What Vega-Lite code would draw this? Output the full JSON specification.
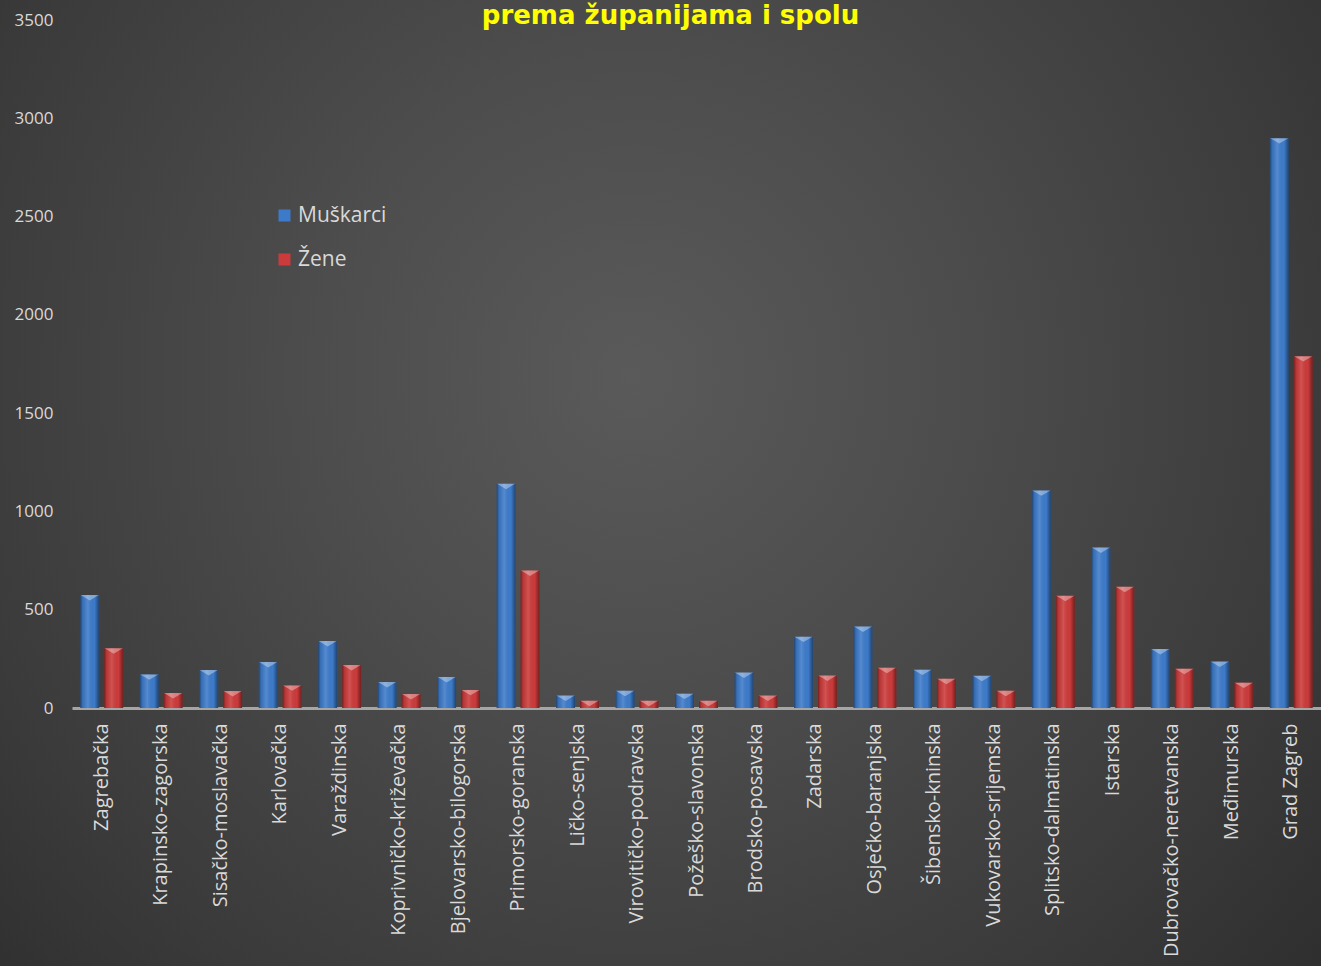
{
  "$schema": "https://vega.github.io/schema/vega-lite/v6.json",
  "autosize": "none",
  "width": 1321,
  "height": 966,
  "padding": 0,
  "background": "#282828",
  "title": {
    "text": "prema županijama i spolu",
    "frame": "group",
    "anchor": "middle",
    "orient": "top",
    "baseline": "top",
    "offset": -29,
    "dx": 10,
    "font": "DejaVu Sans",
    "fontSize": 26,
    "fontWeight": "bold",
    "color": "#ffff00"
  },
  "config": {
    "view": {
      "stroke": null,
      "fill": {
        "gradient": "radial",
        "x1": 0.48, "y1": 0.42, "r1": 0,
        "x2": 0.48, "y2": 0.42, "r2": 0.8,
        "stops": [
          {"offset": 0, "color": "#5a5a5a"},
          {"offset": 0.3, "color": "#4d4d4d"},
          {"offset": 0.65, "color": "#3b3b3b"},
          {"offset": 1, "color": "#262626"}
        ]
      }
    },
    "font": "Open Sans"
  },
  "data": {
    "values": [
      {"zupanija": "Zagrebačka", "spol": "Muškarci", "broj": 575},
      {"zupanija": "Zagrebačka", "spol": "Žene", "broj": 304},
      {"zupanija": "Krapinsko-zagorska", "spol": "Muškarci", "broj": 171},
      {"zupanija": "Krapinsko-zagorska", "spol": "Žene", "broj": 76},
      {"zupanija": "Sisačko-moslavačka", "spol": "Muškarci", "broj": 193},
      {"zupanija": "Sisačko-moslavačka", "spol": "Žene", "broj": 86},
      {"zupanija": "Karlovačka", "spol": "Muškarci", "broj": 234},
      {"zupanija": "Karlovačka", "spol": "Žene", "broj": 115},
      {"zupanija": "Varaždinska", "spol": "Muškarci", "broj": 341},
      {"zupanija": "Varaždinska", "spol": "Žene", "broj": 219},
      {"zupanija": "Koprivničko-križevačka", "spol": "Muškarci", "broj": 132},
      {"zupanija": "Koprivničko-križevačka", "spol": "Žene", "broj": 71},
      {"zupanija": "Bjelovarsko-bilogorska", "spol": "Muškarci", "broj": 158},
      {"zupanija": "Bjelovarsko-bilogorska", "spol": "Žene", "broj": 92},
      {"zupanija": "Primorsko-goranska", "spol": "Muškarci", "broj": 1141},
      {"zupanija": "Primorsko-goranska", "spol": "Žene", "broj": 699},
      {"zupanija": "Ličko-senjska", "spol": "Muškarci", "broj": 63},
      {"zupanija": "Ličko-senjska", "spol": "Žene", "broj": 37},
      {"zupanija": "Virovitičko-podravska", "spol": "Muškarci", "broj": 88},
      {"zupanija": "Virovitičko-podravska", "spol": "Žene", "broj": 37},
      {"zupanija": "Požeško-slavonska", "spol": "Muškarci", "broj": 73},
      {"zupanija": "Požeško-slavonska", "spol": "Žene", "broj": 37},
      {"zupanija": "Brodsko-posavska", "spol": "Muškarci", "broj": 180},
      {"zupanija": "Brodsko-posavska", "spol": "Žene", "broj": 63},
      {"zupanija": "Zadarska", "spol": "Muškarci", "broj": 363},
      {"zupanija": "Zadarska", "spol": "Žene", "broj": 165},
      {"zupanija": "Osječko-baranjska", "spol": "Muškarci", "broj": 414},
      {"zupanija": "Osječko-baranjska", "spol": "Žene", "broj": 205},
      {"zupanija": "Šibensko-kninska", "spol": "Muškarci", "broj": 195},
      {"zupanija": "Šibensko-kninska", "spol": "Žene", "broj": 149},
      {"zupanija": "Vukovarsko-srijemska", "spol": "Muškarci", "broj": 164},
      {"zupanija": "Vukovarsko-srijemska", "spol": "Žene", "broj": 88},
      {"zupanija": "Splitsko-dalmatinska", "spol": "Muškarci", "broj": 1107},
      {"zupanija": "Splitsko-dalmatinska", "spol": "Žene", "broj": 571},
      {"zupanija": "Istarska", "spol": "Muškarci", "broj": 816},
      {"zupanija": "Istarska", "spol": "Žene", "broj": 617},
      {"zupanija": "Dubrovačko-neretvanska", "spol": "Muškarci", "broj": 300},
      {"zupanija": "Dubrovačko-neretvanska", "spol": "Žene", "broj": 200},
      {"zupanija": "Međimurska", "spol": "Muškarci", "broj": 236},
      {"zupanija": "Međimurska", "spol": "Žene", "broj": 129},
      {"zupanija": "Grad Zagreb", "spol": "Muškarci", "broj": 2899},
      {"zupanija": "Grad Zagreb", "spol": "Žene", "broj": 1790}
    ]
  },
  "encoding": {
    "x": {
      "field": "zupanija",
      "type": "nominal",
      "sort": null,
      "scale": {"range": [72, 1321], "paddingInner": 0.28, "paddingOuter": 0.14},
      "axis": {
        "title": null,
        "offset": -258,
        "labelAngle": 270,
        "labelFontSize": 20,
        "labelColor": "#d9d9d9",
        "labelPadding": 15,
        "labelLimit": 400,
        "ticks": false,
        "domain": true,
        "domainColor": "#a6a6a6",
        "domainWidth": 3,
        "grid": false
      }
    },
    "xOffset": {
      "field": "spol",
      "type": "nominal",
      "scale": {"paddingInner": 0.21, "paddingOuter": 0}
    },
    "y": {
      "field": "broj",
      "type": "quantitative",
      "scale": {"domain": [0, 3500], "range": [708, 20], "nice": false},
      "axis": {
        "title": null,
        "offset": -72,
        "values": [0, 500, 1000, 1500, 2000, 2500, 3000, 3500],
        "format": "d",
        "labelFontSize": 17,
        "labelColor": "#d9d9d9",
        "labelPadding": 19,
        "ticks": false,
        "domain": false,
        "grid": false
      }
    }
  },
  "layer": [
    {
      "mark": {"type": "bar"},
      "encoding": {
        "color": {
          "field": "spol",
          "type": "nominal",
          "scale": {"domain": ["Muškarci", "Žene"], "range": ["#3d7bca", "#cc3b3b"]},
          "legend": {
            "title": null,
            "orient": "none",
            "legendX": 274,
            "legendY": 205,
            "symbolType": "square",
            "symbolSize": 144,
            "symbolStrokeWidth": 0,
            "labelFontSize": 21,
            "labelColor": "#d9d9d9",
            "labelOffset": 3,
            "rowPadding": 22
          }
        }
      }
    },
    {
      "mark": {
        "type": "bar",
        "color": {
          "gradient": "linear",
          "x1": 0, "y1": 0, "x2": 1, "y2": 0,
          "stops": [
            {"offset": 0, "color": "rgba(0,0,0,0.45)"},
            {"offset": 0.12, "color": "rgba(0,0,0,0.1)"},
            {"offset": 0.4, "color": "rgba(255,255,255,0.12)"},
            {"offset": 0.75, "color": "rgba(0,0,0,0.0)"},
            {"offset": 1, "color": "rgba(0,0,0,0.45)"}
          ]
        }
      }
    },
    {
      "mark": {
        "type": "point",
        "filled": true,
        "shape": "M-1,0L1,0L0,0.6Z",
        "size": 330,
        "color": "#ffffff",
        "opacity": 0.35
      }
    }
  ]
}
